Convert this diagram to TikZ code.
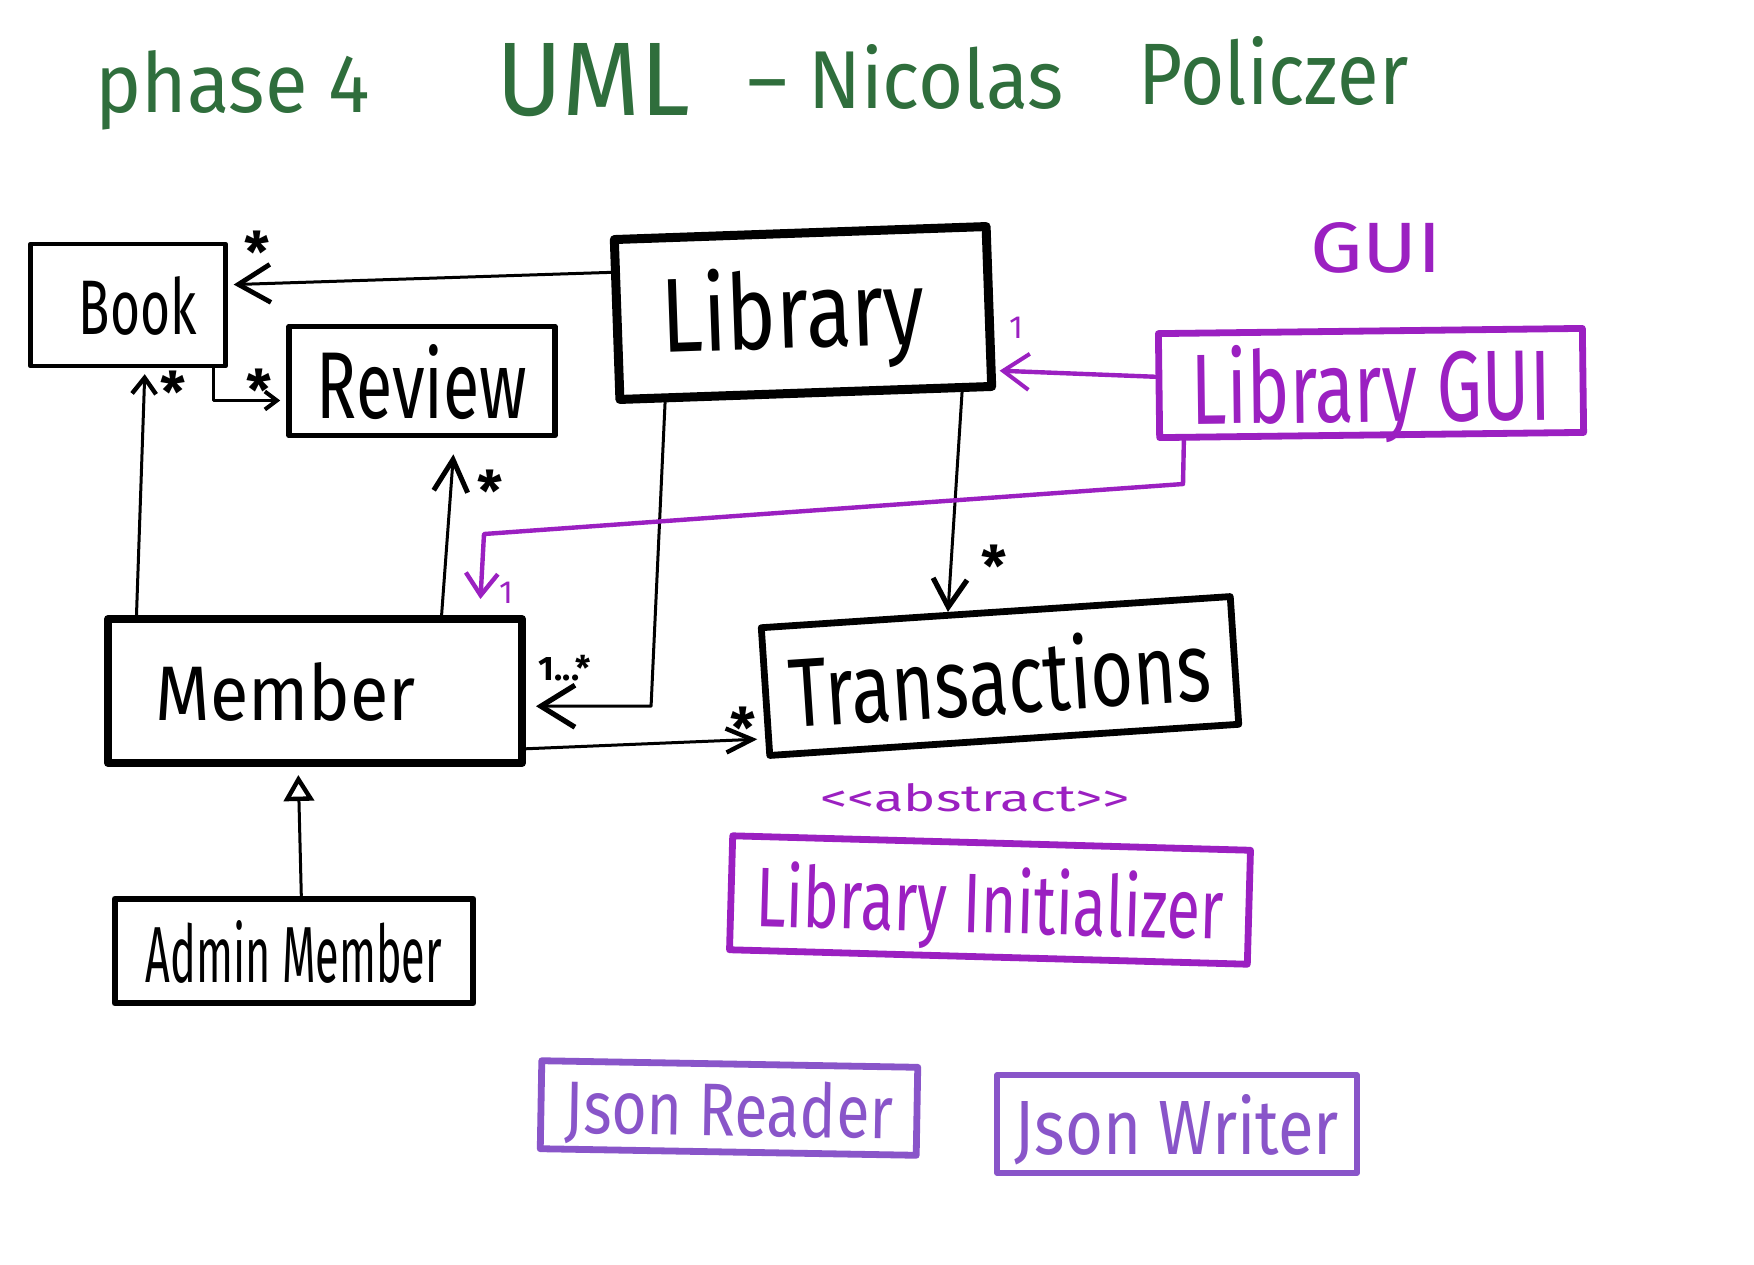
\documentclass[tikz,border=0pt]{standalone}
\usepackage{fontspec}
\setmainfont{Fira Sans}
\usetikzlibrary{arrows.meta,calc}
\definecolor{pur}{HTML}{9B20C1}
\definecolor{lpur}{HTML}{8955C9}
\definecolor{grn}{HTML}{2F6E3C}
\newcommand\hw[3]{\resizebox{#1}{#2}{#3}}
\begin{document}
\begin{tikzpicture}[x=0.5pt,y=-0.5pt,
  cls/.style={draw, rectangle, line join=round, inner sep=0pt, text depth=0pt, anchor=center},
  conn/.style={line width=1.5pt, line cap=round, line join=round},
  pconn/.style={draw=pur, line width=2.2pt, line cap=round, line join=round},
  mult/.style={font=\fontsize{28}{28}\selectfont\bfseries, inner sep=0pt},
  pmult/.style={text=pur, font=\fontsize{16}{16}\selectfont, inner sep=0pt},
  ttl/.style={text=grn, anchor=base west, inner sep=0pt}
]
\fill[white] (0,0) rectangle (1754,1264);
\useasboundingbox (0,0) rectangle (1754,1264);

% title
\node[ttl] (t1) at (95,112) {\hw{137pt}{31pt}{phase 4}};
\node[ttl] (t2) at (496,115) {\hw{97pt}{36pt}{UML}};
\node[ttl] (t3) at (747,108) {\hw{158pt}{32pt}{– Nicolas}};
\node[ttl] (t4) at (1138,104) {\hw{135pt}{34pt}{Policzer}};

% classes
\node[cls, line width=2.2pt, minimum width=97.5pt, minimum height=61pt] (book) at (128,305) {\hw{59pt}{29pt}{Book}\hspace*{-10pt}};
\node[cls, line width=2.8pt, minimum width=133pt, minimum height=54.5pt] (review) at (422,381) {\hw{105pt}{37pt}{Review}};
\node[cls, line width=4.5pt, minimum width=186pt, minimum height=80pt, rotate=2] (lib) at (803,313) {\raisebox{6pt}{\hw{132pt}{41pt}{Library}}\hspace*{10pt}};
\node[cls, draw=pur, text=pur, line width=3.4pt, minimum width=212pt, minimum height=52pt, rotate=0.7] (gui) at (1371,383) {\hw{180pt}{39pt}{Library GUI}};
\node[cls, line width=4pt, minimum width=207pt, minimum height=72pt] (member) at (315,691) {\hw{130pt}{29pt}{Member}\hspace*{29pt}};
\node[cls, line width=3.4pt, minimum width=235pt, minimum height=64pt, rotate=3.8] (trans) at (1000,676) {\hw{211pt}{38pt}{Transactions}};
\node[cls, draw=pur, text=pur, line width=3.4pt, minimum width=259pt, minimum height=57pt, rotate=-1.6] (init) at (990,900) {\hw{234pt}{33pt}{Library Initializer}};
\node[cls, line width=3.4pt, minimum width=179pt, minimum height=52pt] (admin) at (294,951) {\hw{148pt}{31pt}{Admin Member}};
\node[cls, draw=lpur, text=lpur, line width=3.4pt, minimum width=188pt, minimum height=44pt, rotate=-1] (reader) at (729,1108) {\hw{164pt}{28pt}{Json Reader}};
\node[cls, draw=lpur, text=lpur, line width=2.8pt, minimum width=180pt, minimum height=49pt] (writer) at (1177,1124) {\hw{162pt}{30pt}{Json Writer}};

% free labels
\node[text=pur, inner sep=0pt] (guilbl) at (1376,248) {\hw{66pt}{25pt}{GUI}};
\node[text=pur, inner sep=0pt] (abs) at (975,798) {\hw{155pt}{14pt}{<{}<abstract>{}>}};

% connectors
\draw[conn, -{Straight Barb[length=16pt,width=19pt,line width=2.4pt]}, shorten >=3pt]
  ($(lib.north west)!0.22!(lib.south west)$) -- ($(book.north east)!0.34!(book.south east)$);
\draw[conn, -{Straight Barb[length=6pt,width=9pt,line width=2pt]}, shorten >=3pt]
  ($(book.south west)!0.93!(book.south east)$) |- ($(review.north west)!0.67!(review.south west)$);
\draw[conn, -{Straight Barb[length=8pt,width=12pt,line width=2.2pt]}, shorten >=3pt]
  ($(member.north west)!0.077!(member.north east)$) -- ($(book.south west)!0.585!(book.south east)$);
\draw[conn, -{Straight Barb[length=16pt,width=17pt,line width=2.5pt]}, shorten >=8pt]
  ($(member.north west)!0.80!(member.north east)$) -- ($(review.south west)!0.62!(review.south east)$);

\coordinate (l5) at ($(lib.south west)!0.13!(lib.south east)$);
\coordinate (m5) at ($(member.north east)!0.60!(member.south east)$);
\coordinate (c5) at ($(l5 |- m5)+(-14,0)$);
\draw[conn, -{Straight Barb[length=17pt,width=21pt,line width=2.6pt]}, shorten >=5pt] (l5) -- (c5) -- (m5);

\draw[conn, -{Straight Barb[length=14pt,width=17pt,line width=2.6pt]}]
  ($(lib.south west)!0.91!(lib.south east)$) -- ($(trans.north west)!0.4!(trans.north east)$);
\draw[conn, -{Straight Barb[length=13pt,width=12pt,line width=2.2pt]}, shorten >=4pt]
  ($(member.north east)!0.88!(member.south east)$) -- ($(trans.north west)!0.85!(trans.south west)$);

\draw[pconn, -{Straight Barb[length=13pt,width=18pt,line width=2pt]}, shorten >=2pt]
  ($(gui.north west)!0.42!(gui.south west)$) -- ($(lib.north east)!0.88!(lib.south east)$);
\coordinate (g9) at ($(gui.south west)!0.064!(gui.south east)$);
\coordinate (c9a) at (1183,484);
\coordinate (c9b) at (484,534);
\draw[pconn, -{Straight Barb[length=11pt,width=16pt,line width=2.2pt]}, shorten >=8pt]
  (g9) -- (c9a) -- (c9b) -- ($(member.north west)!0.89!(member.north east)$);

\draw[conn, -{Triangle[open,length=13pt,width=15pt,line width=2.2pt]}, shorten >=4pt]
  ($(admin.north west)!0.52!(admin.north east)$) -- ($(member.south west)!0.46!(member.south east)$);

% multiplicities
\node[mult] (m1) at (257,252) {*};
\node[mult] (m2) at (259,390) {*};
\node[mult] (m3) at (173,392) {*};
\node[mult] (m4) at (490,491) {*};
\node[font=\fontsize{17}{17}\selectfont\bfseries, inner sep=0pt] (m5l) at (565,668) {1...*};
\node[mult] (m6) at (994,566) {*};
\node[mult] (m7) at (743,728) {*};
\node[pmult] (p1) at (1016,328) {1};
\node[pmult] (p2) at (506,593) {1};
\end{tikzpicture}
\end{document}
